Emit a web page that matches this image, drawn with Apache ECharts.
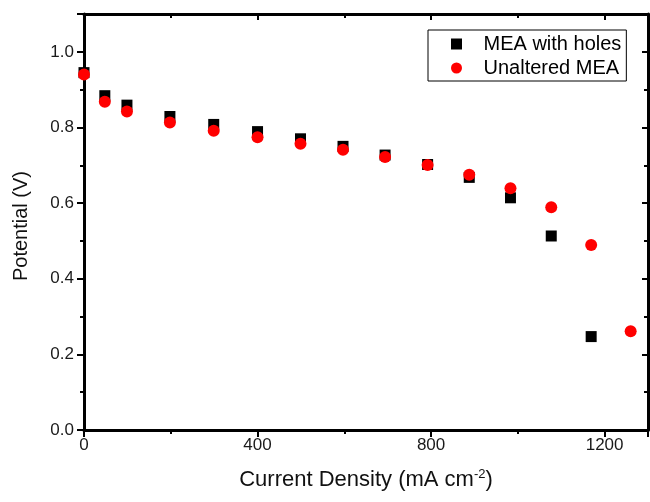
<!DOCTYPE html>
<html>
<head>
<meta charset="utf-8">
<script src="https://cdn.jsdelivr.net/npm/echarts@6/dist/echarts.min.js"></script>
<style>html,body{margin:0;padding:0;background:#fff}#c{width:650px;height:502px}</style>
</head>
<body>
<div id="c"></div>
<script>
const currentHoles = [0, 48, 99, 198, 299, 400, 499, 597, 694, 792, 888, 983, 1077, 1169];
const potentialHoles = [0.945, 0.884, 0.859, 0.829, 0.808, 0.789, 0.770, 0.750, 0.727, 0.702, 0.668, 0.614, 0.513, 0.247];
const currentUnaltered = [0, 48, 99, 198, 299, 400, 499, 597, 694, 792, 888, 983, 1077, 1169, 1260];
const potentialUnaltered = [0.940, 0.868, 0.842, 0.813, 0.791, 0.774, 0.757, 0.741, 0.722, 0.701, 0.675, 0.639, 0.589, 0.489, 0.261];
const seriesNames = ['MEA with holes', 'Unaltered MEA'];
const xTitle = 'Current Density (mA cm{sup|-2})';
const yTitle = 'Potential (V)';

const FONT = '"Liberation Sans", Arial, sans-serif';
const AX = '#000';
const LW = 3;

function zip(xs, ys) { return xs.map((x, i) => [x, ys[i]]); }

const chart = echarts.init(document.getElementById('c'), null, {renderer: 'canvas'});
const baseX = {
  type: 'value', min: 0, max: 1300, interval: 400,
  splitLine: {show: false},
  axisLine: {show: true, onZero: false, lineStyle: {color: AX, width: LW}},
  minorTick: {show: true, splitNumber: 2, length: 4, lineStyle: {color: AX, width: 2}},
  axisTick: {show: true, length: 7, lineStyle: {color: AX, width: 2}}
};
const baseY = {
  type: 'value', min: 0, max: 1.1, interval: 0.2,
  splitLine: {show: false},
  axisLine: {show: true, onZero: false, lineStyle: {color: AX, width: LW}},
  minorTick: {show: true, splitNumber: 2, length: 4, lineStyle: {color: AX, width: 2}},
  axisTick: {show: true, length: 7, lineStyle: {color: AX, width: 2}}
};
chart.setOption({
  backgroundColor: '#fff',
  animation: false,
  textStyle: {fontFamily: FONT},
  grid: {left: 84, right: 2, top: 14, bottom: 72, containLabel: false},
  legend: {
    left: 428, top: 30, orient: 'vertical',
    data: [
      {name: seriesNames[0], icon: 'path://M0,0H10V10H0Z'},
      {name: seriesNames[1], icon: 'circle'}
    ],
    backgroundColor: '#fff',
    borderColor: '#000', borderWidth: 1, borderRadius: 0,
    padding: [4, 5, 3, 23],
    itemWidth: 44, itemHeight: 11, itemGap: 4,
    symbolKeepAspect: true,
    textStyle: {fontFamily: FONT, fontSize: 20, color: '#000', lineHeight: 20}
  },
  xAxis: [
    Object.assign({}, baseX, {
      position: 'bottom',
      name: xTitle, nameLocation: 'middle', nameGap: 38,
      nameTextStyle: {fontFamily: FONT, fontSize: 22, color: '#111',
        rich: {sup: {fontFamily: FONT, fontSize: 13, color: '#111', padding: [0, 0, 11, 0]}}},
      axisLabel: {show: true, margin: 7, fontFamily: FONT, fontSize: 17, color: '#1a1a1a',
        showMaxLabel: false, formatter: v => (v % 400 === 0 ? String(v) : '')}
    }),
    Object.assign({}, baseX, {
      position: 'top',
      axisLabel: {show: false},
      axisTick: {show: true, inside: true, length: 6, lineStyle: {color: AX, width: 2}},
      minorTick: {show: true, splitNumber: 2, length: 4, lineStyle: {color: AX, width: 2}}
    })
  ],
  yAxis: [
    Object.assign({}, baseY, {
      position: 'left',
      name: yTitle, nameLocation: 'middle', nameGap: 53, nameRotate: 90,
      nameTextStyle: {fontFamily: FONT, fontSize: 20, color: '#111', padding: [0, 8, 0, 0]},
      axisLabel: {show: true, margin: 10, fontFamily: FONT, fontSize: 17, color: '#1a1a1a',
        showMaxLabel: false, formatter: v => (Math.abs(v * 10 % 2) < 1e-6 || Math.abs(v * 10 % 2 - 2) < 1e-6 ? v.toFixed(1) : '')}
    }),
    Object.assign({}, baseY, {
      position: 'right',
      axisLabel: {show: false},
      axisTick: {show: true, inside: true, length: 6, lineStyle: {color: AX, width: 2}},
      minorTick: {show: true, splitNumber: 2, length: 4, lineStyle: {color: AX, width: 2}}
    })
  ],
  series: [
    {
      name: seriesNames[0], type: 'scatter', xAxisIndex: 0, yAxisIndex: 0,
      symbol: 'rect', symbolSize: 11,
      itemStyle: {color: '#000', opacity: 1},
      data: zip(currentHoles, potentialHoles), z: 2
    },
    {
      name: seriesNames[1], type: 'scatter', xAxisIndex: 0, yAxisIndex: 0,
      symbol: 'circle', symbolSize: 12,
      itemStyle: {color: '#ff0000', opacity: 1},
      data: zip(currentUnaltered, potentialUnaltered), z: 3
    }
  ]
});
</script>
</body>
</html>
